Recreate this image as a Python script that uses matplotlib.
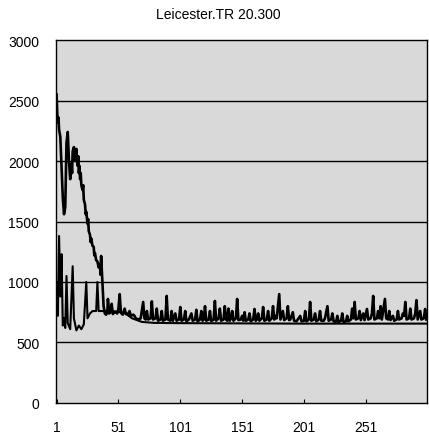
import matplotlib
matplotlib.use("Agg")
import matplotlib.pyplot as plt

# values
title = "Leicester.TR 20.300"

a_pts = [(1, 2550), (1.5, 2400), (2, 2320), (2.5, 2360), (3, 2260), (4, 2200), (5, 1950), (6, 1700),
         (7, 1560), (8, 1620), (9, 2150), (10, 2240), (11, 2000), (12, 1850), (13, 1980), (13.5, 1900),
         (14, 2080), (15, 2115), (15.5, 2020), (16, 2000), (17, 2100), (17.5, 2000), (18, 1960),
         (18.5, 2040), (19, 1900), (19.5, 1960), (20, 1850), (20.5, 1900), (21, 1800), (22, 1760),
         (22.5, 1800), (23, 1680), (24, 1640), (24.5, 1560), (25, 1580), (26, 1480), (26.5, 1520),
         (27, 1420), (28, 1390), (28.5, 1330), (29, 1360), (30, 1300), (31, 1290), (31.5, 1220),
         (32, 1240), (33, 1180), (34, 1170), (35, 1120), (36, 1150), (36.5, 1060), (37, 1215),
         (38, 1000), (39, 800), (40, 740), (41, 730), (42, 745), (42.5, 860), (43.5, 740), (44.5, 750),
         (45.5, 820), (46.5, 735), (48, 755), (50, 740), (51, 780), (52, 900), (53, 745), (54.5, 730),
         (56, 780), (57, 735), (59, 740), (60, 760), (61, 720), (63, 730), (64, 720), (65, 700),
         (67, 690), (69, 700), (71, 835), (72, 700), (73, 690), (74, 760), (75, 690), (77, 700),
         (78, 840), (79, 690), (81, 700), (82, 780), (83, 680), (85, 690), (86, 760), (87, 680),
         (89, 690), (90, 885), (91, 690), (93, 680), (94, 760), (95, 680), (97, 740), (98, 680),
         (100, 690), (101, 793), (102, 680), (104, 690), (105, 760), (106, 675), (108, 690), (110, 740),
         (111, 680), (113, 690), (114, 770), (115, 675), (117, 690), (118, 760), (119, 680), (120, 690),
         (121, 800), (122, 680), (124, 690), (125, 760), (126, 675), (128, 690), (129, 843), (130, 680),
         (132, 700), (133, 780), (134, 680), (136, 690), (137, 800), (138, 690), (139, 680), (140, 780),
         (141, 680), (142, 700), (143, 760), (144, 680), (146, 700), (147, 860), (148, 685), (150, 690),
         (151, 720), (152, 680), (153, 750), (154, 680), (156, 690), (157, 740), (158, 675), (160, 690),
         (161, 777), (162, 680), (163, 690), (164, 740), (165, 680), (167, 700), (168, 793), (169, 680),
         (171, 690), (172, 760), (173, 680), (175, 700), (176, 800), (177, 690), (178, 720), (179, 700),
         (181, 900), (182, 690), (184, 760), (185, 685), (187, 700), (188, 800), (189, 685), (190, 690),
         (192, 750), (193, 680), (195, 675), (196, 690), (198, 720), (199, 675), (201, 680), (202, 760),
         (203, 675), (205, 690), (206, 835), (207, 680), (209, 690), (210, 740), (211, 675), (213, 690),
         (214, 760), (215, 680), (217, 680), (218, 700), (220, 800), (221, 680), (223, 690), (224, 740),
         (225, 675), (227, 670), (228, 720), (229, 670), (231, 680), (232, 740), (233, 670), (235, 675),
         (236, 720), (237, 675), (239, 690), (240, 780), (241, 700), (242, 835), (243, 690), (245, 700),
         (246, 760), (247, 685), (249, 740), (250, 685), (252, 777), (253, 690), (255, 700), (256, 740),
         (257, 885), (258, 690), (260, 700), (261, 760), (262, 700), (263, 800), (264, 690), (266.5, 860),
         (267.5, 700), (269, 690), (270, 760), (271, 685), (273, 720), (274, 680), (276, 690), (277, 760),
         (278, 690), (280, 700), (281, 740), (282, 720), (283, 835), (284, 690), (286, 700), (287, 780),
         (288, 690), (290, 700), (291, 740), (292, 850), (293, 690), (295, 760), (296, 690), (298, 700),
         (299, 777), (300, 690)]

b_pts = [(1, 1000), (2, 720), (3, 1380), (4, 880), (5, 1230), (6, 640), (7, 700), (8, 620),
         (9, 1050), (10, 660), (12, 610), (14, 1130), (15, 700), (17, 600), (19, 640), (21, 610),
         (23, 650), (25, 1000), (26, 700), (28, 740), (30, 760), (33, 760), (34, 1000), (35, 760),
         (40, 760), (50, 755), (56, 745), (62, 700), (70, 670), (80, 662), (100, 660), (150, 658),
         (200, 656), (250, 656), (300, 656)]

x_ticks = [1, 51, 101, 151, 201, 251]
y_ticks = [0, 500, 1000, 1500, 2000, 2500, 3000]

a_x, a_y = zip(*a_pts)
b_x, b_y = zip(*b_pts)

plt.rcParams['font.family'] = ['Liberation Sans', 'DejaVu Sans']

fig = plt.figure(figsize=(4.29, 4.35), dpi=100)
ax = fig.add_axes([0.1305, 0.0713, 0.8648, 0.8344])
ax.set_facecolor('#d9d9d9')

# horizontal grid only
for v in y_ticks[1:-1]:
    ax.axhline(v, color='black', lw=1.0, zorder=1)

ax.plot(b_x, b_y, color='black', lw=1.5, zorder=2)
ax.plot(a_x, a_y, color='black', lw=1.9, zorder=3)

ax.set_xlim(0.5, 300.5)
ax.set_ylim(0, 3000)
ax.set_xticks(x_ticks)
ax.set_yticks(y_ticks)
ax.tick_params(axis='x', direction='in', length=3, pad=12, labelsize=10)
ax.tick_params(axis='y', length=0, pad=12, labelsize=10)
for s in ax.spines.values():
    s.set_linewidth(1.0)

fig.text(0.508, 0.9655, title, ha='center', va='center', fontsize=10)

fig.savefig('out.png', dpi=100)
